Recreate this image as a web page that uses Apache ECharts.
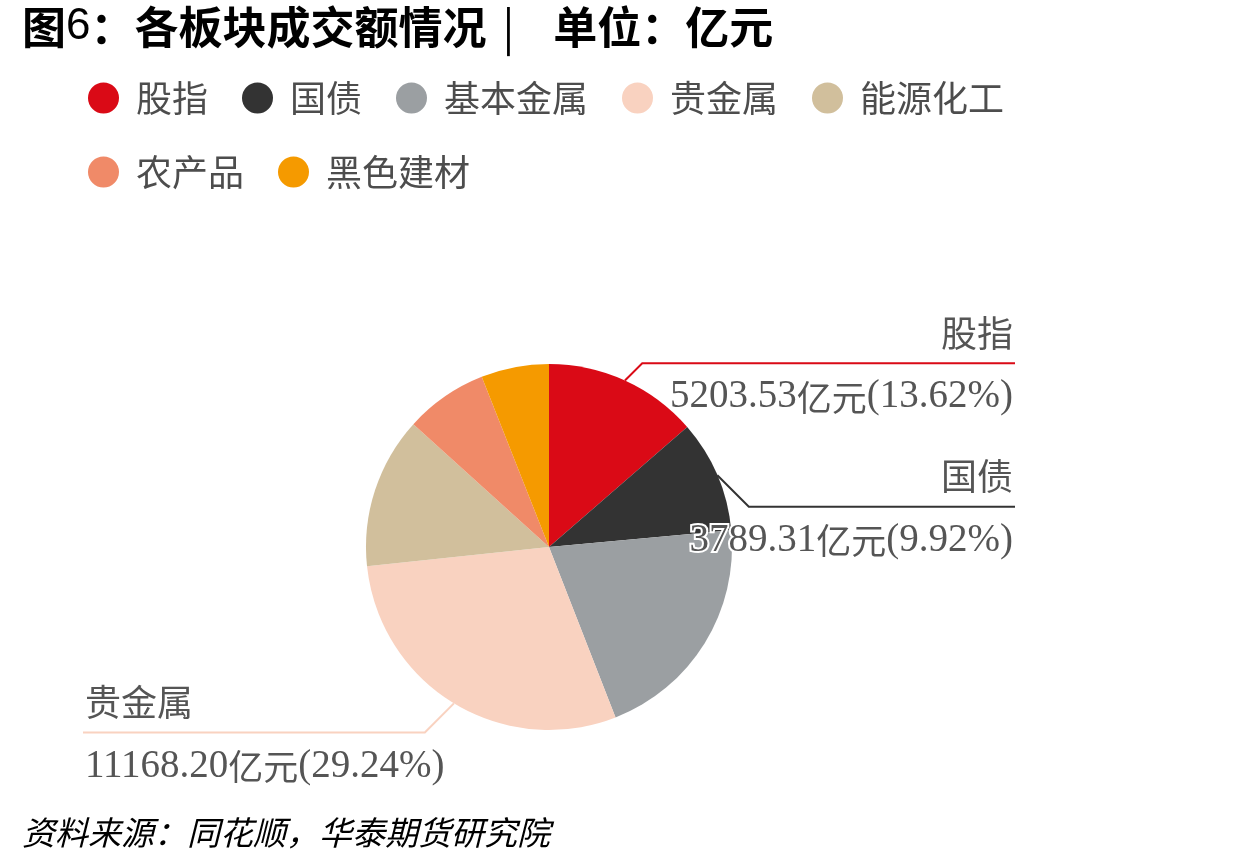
<!DOCTYPE html>
<html>
<head>
<meta charset="utf-8" />
<title>各板块成交额情况</title>
<script src="https://cdn.jsdelivr.net/npm/echarts@6/dist/echarts.min.js"></script>
<style>
  html, body { margin: 0; padding: 0; background: #fff; }
  #chartPie { width: 1240px; height: 866px; }
</style>
</head>
<body>
<div id="chartPie"></div>
<script>
// 各板块成交额（亿元）
var sectors = ["股指", "国债", "基本金属", "贵金属", "能源化工", "农产品", "黑色建材"];
var amounts = [5203.53, 3789.31, 7842.5, 11168.2, 5117.8, 2786.4, 2288.3];
var sectorColors = ["#da0a16", "#333333", "#9b9fa2", "#f9d2c0", "#d1bf9c", "#f08a68", "#f59a00"];
// 只有这几个扇区带标签
var labeled = ["股指", "国债", "贵金属"];

var pieCenter = [549, 547];
var pieRadius = 183;

window.onload = function () {
  InitPie();
};

// 扇区中线在圆周上的点（从12点钟方向顺时针）
function surfacePoint(idx) {
  var total = 0, before = 0;
  for (var i = 0; i < amounts.length; i++) {
    total += amounts[i];
    if (i < idx) before += amounts[i];
  }
  var a = ((before + amounts[idx] / 2) / total) * Math.PI * 2;
  return [pieCenter[0] + pieRadius * Math.sin(a), pieCenter[1] - pieRadius * Math.cos(a)];
}

function InitPie() {
  var myChart = echarts.init(document.getElementById("chartPie"));

  var data = [];
  for (var i = 0; i < sectors.length; i++) {
    var item = {
      name: sectors[i],
      value: amounts[i],
      itemStyle: { color: sectorColors[i] },
    };
    if (labeled.indexOf(sectors[i]) < 0) {
      item.label = { show: false };
      item.labelLine = { show: false };
    }
    // 引线第一段长度按原图微调
    if (sectors[i] === "股指") {
      item.labelLine = { length: 19 };
    }
    if (sectors[i] === "贵金属") {
      item.labelLine = { length: 34 };
    }
    data.push(item);
  }

  var numStyle = {
    fontFamily: "Liberation Serif",
    fontSize: 39,
    lineHeight: 60,
    color: "#555",
    textBorderColor: "#fff",
    textBorderWidth: 4,
  };
  var cnStyle = {
    fontFamily: "Noto Sans CJK SC",
    fontSize: 35,
    lineHeight: 60,
    color: "#555",
    textBorderColor: "#fff",
    textBorderWidth: 4,
  };

  var option = {
    backgroundColor: "#fff",
    animation: false,
    title: [
      {
        text: "图{six|6}：各板块成交额情况{bar||}{t|单位：亿元}",
        left: 22,
        top: 5,
        padding: 0,
        textStyle: {
          fontFamily: "Noto Sans CJK SC",
          fontSize: 44,
          fontWeight: "bold",
          color: "#000",
          rich: {
            six: {
              fontFamily: "Liberation Sans",
              fontSize: 44,
              fontWeight: "normal",
              color: "#000",
            },
            bar: {
              fontFamily: "Noto Sans CJK SC",
              fontSize: 44,
              fontWeight: "normal",
              color: "#000",
              padding: [0, 39, 0, 16],
            },
            t: {
              fontFamily: "Noto Sans CJK SC",
              fontSize: 44,
              fontWeight: "bold",
              color: "#000",
            },
          },
        },
      },
      {
        text: "资料来源：同花顺，华泰期货研究院",
        left: 22,
        top: 816,
        padding: 0,
        textStyle: {
          fontFamily: "Noto Sans CJK SC",
          fontSize: 33,
          fontStyle: "italic",
          fontWeight: "normal",
          color: "#000",
        },
      },
    ],
    legend: {
      left: 88,
      top: 78,
      width: 940,
      padding: 0,
      icon: "circle",
      itemWidth: 31,
      itemHeight: 31,
      itemGap: 34,
      textStyle: {
        fontFamily: "Noto Sans CJK SC",
        fontSize: 36,
        lineHeight: 40,
        color: "#4d4d4d",
        padding: [0, 0, 0, 12],
      },
      data: sectors,
    },
    series: [
      {
        name: "成交额",
        type: "pie",
        left: 0,
        top: 0,
        right: 142,
        bottom: 0,
        center: pieCenter,
        radius: pieRadius,
        startAngle: 90,
        clockwise: true,
        avoidLabelOverlap: true,
        label: {
          show: true,
          position: "outside",
          alignTo: "edge",
          edgeDistance: 85,
          minMargin: 40,
          overflow: "none",
          formatter: function (p) {
            return (
              "{name|" + p.name + "}\n" +
              "{num|" + p.value.toFixed(2) + "}{cn|亿元}{num|(" + p.percent.toFixed(2) + "%)}"
            );
          },
          rich: {
            name: {
              fontFamily: "Noto Sans CJK SC",
              fontSize: 36,
              lineHeight: 68,
              color: "#555",
            },
            num: numStyle,
            cn: cnStyle,
          },
        },
        labelLine: {
          show: true,
          length: 22,
          length2: 0,
          lineStyle: { width: 2 },
        },
        labelLayout: function (params) {
          var isLeft = params.labelRect.x < pieCenter[0];
          var points = params.labelLinePoints;
          if (points) {
            // 引线：圆周 -> 45°斜线 -> 水平线贯穿标签
            var lineY = points[2][1];
            var s = surfacePoint(params.dataIndex);
            var dy = Math.abs(lineY - s[1]);
            points[0] = [s[0], s[1]];
            points[1] = [isLeft ? s[0] - dy : s[0] + dy, lineY];
            points[2][0] = isLeft ? params.labelRect.x : params.labelRect.x + params.labelRect.width;
          }
          return { labelLinePoints: points };
        },
        emphasis: { disabled: true },
        data: data,
      },
    ],
  };
  myChart.setOption(option);
}
</script>
</body>
</html>
